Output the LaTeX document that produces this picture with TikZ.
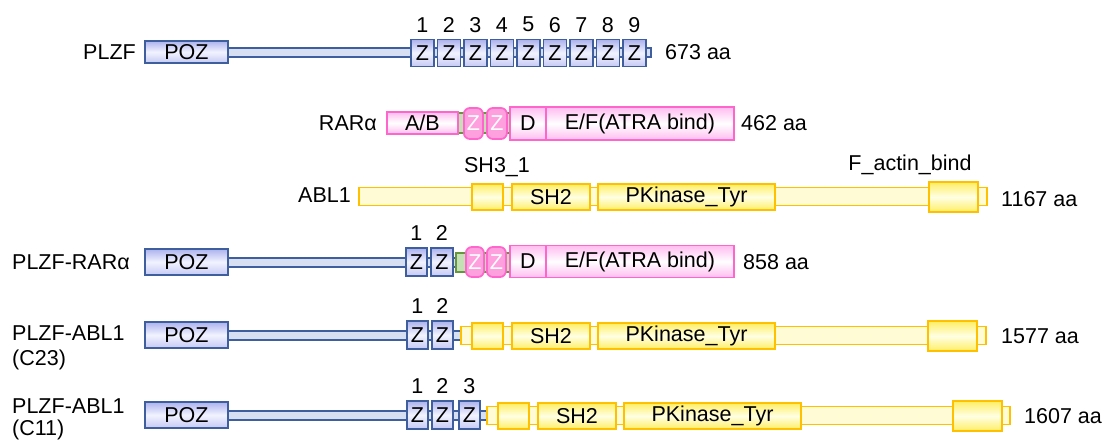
\documentclass[tikz,border=0pt]{standalone}
\usepackage{fontspec}
\setmainfont{Liberation Sans}
\usetikzlibrary{calc}
\newcommand\fz{\fontsize{21.5}{25}\selectfont}
\definecolor{bblue}{RGB}{63,94,158}
\definecolor{blueA}{RGB}{172,178,238}
\definecolor{blueB}{RGB}{242,243,255}
\definecolor{bbar}{RGB}{214,224,242}
\definecolor{pinkD}{RGB}{255,102,204}
\definecolor{pinkA}{RGB}{255,188,240}
\definecolor{pinkZ}{RGB}{255,160,222}
\definecolor{greenD}{RGB}{100,150,60}
\definecolor{greenA}{RGB}{197,224,180}
\definecolor{ylwD}{RGB}{255,192,0}
\definecolor{ylwA}{RGB}{255,238,100}
\definecolor{ylwB}{RGB}{255,255,228}
\definecolor{ylwC}{RGB}{255,251,212}
\begin{document}
\begin{tikzpicture}[x=1pt,y=-1pt,
  wd/.style={minimum width=#1pt},
  ht/.style={minimum height=#1pt},
  box/.style={line width=1.8pt, inner sep=0pt, anchor=west, font=\fz},
  bluebox/.style={box, draw=bblue, top color=blueA, bottom color=blueA!70!white, middle color=blueB},
  bluebar/.style={draw=bblue, line width=1.5pt, fill=bbar, inner sep=0pt, anchor=west, minimum height=9pt},
  pinkbox/.style={box, draw=pinkD, top color=pinkA, bottom color=pinkA, middle color=white},
  pinkz/.style={box, draw=pinkD, fill=pinkZ, rounded corners=6pt, text=white},
  greenbar/.style={draw=greenD, line width=1.5pt, fill=greenA, inner sep=0pt, anchor=west, minimum height=20pt},
  ylwbox/.style={box, line width=2pt, draw=ylwD, top color=ylwA, bottom color=ylwA, middle color=ylwB},
  ylwbar/.style={draw=ylwD, line width=1.5pt, fill=ylwC, inner sep=0pt, anchor=west, minimum height=18pt},
  lbl/.style={font=\fz, inner sep=0pt}
]
\useasboundingbox (0,0) rectangle (1107,440);

% ---------- Row 1: PLZF ----------
\node[bluebar, wd=423] (r1bar) at (227,52.5) {};
\node[bluebox, wd=83, ht=22] (r1poz) at (144,52) {POZ};
\foreach \i in {1,...,9}{
  \pgfmathsetmacro\zx{410+26.5*(\i-1)}
  \node[bluebox, wd=23, ht=27] (r1z\i) at (\zx,53) {Z};
  \node[lbl] (r1n\i) at ([yshift=14pt]r1z\i.north) {\i};
}
\node[lbl, anchor=east] (r1name) at (136,52) {PLZF};
\node[lbl, anchor=west] (r1len) at (665,52) {673 aa};

% ---------- Row 2: RARalpha ----------
\node[greenbar, wd=52] (r2grn) at (457,123) {};
\node[pinkbox, wd=71, ht=22] (r2ab) at (386,123) {A/B};
\node[pinkz, wd=19, ht=31] (r2z1) at (463,123.5) {Z};
\node[pinkz, wd=20, ht=31] (r2z2) at (486,123.5) {Z};
\node[pinkbox, wd=36, ht=33] (r2d) at (509,123.5) {D};
\node[pinkbox, wd=188, ht=33] (r2ef) at (545,123.5) {E/F(ATRA bind)};
\node[lbl, anchor=east] (r2name) at (377,123) {RARα};
\node[lbl, anchor=west] (r2len) at (741,123) {462 aa};

% ---------- Row 3: ABL1 ----------
\node[ylwbar, wd=628] (r3bar) at (358,196.5) {};
\node[ylwbox, wd=31, ht=26] (r3sh3) at (471,197) {};
\node[ylwbox, wd=78, ht=26] (r3sh2) at (511,197) {SH2};
\node[ylwbox, wd=177, ht=26] (r3pk) at (597,197) {PKinase\_Tyr};
\node[ylwbox, wd=49, ht=30] (r3fa) at (928,197) {};
\node[lbl] (r3sh3l) at (497,167) {SH3\_1};
\node[lbl] (r3fal) at (910,165) {F\_actin\_bind};
\node[lbl, anchor=east] (r3name) at (351,195) {ABL1};
\node[lbl, anchor=west] (r3len) at (1001,199) {1167 aa};

% ---------- Row 4: PLZF-RARalpha ----------
\node[bluebar, wd=229] (r4bar) at (227,262.5) {};
\node[greenbar, wd=54, ht=19] (r4grn) at (455,262.5) {};
\node[bluebox, wd=83, ht=26] (r4poz) at (144,262) {POZ};
\node[bluebox, wd=21, ht=28] (r4z1) at (405,262) {Z};
\node[bluebox, wd=22, ht=28] (r4z2) at (430,262) {Z};
\node[lbl] (r4n1) at ([yshift=14pt]r4z1.north) {1};
\node[lbl] (r4n2) at ([yshift=14pt]r4z2.north) {2};
\node[pinkz, wd=18, ht=30] (r4pz1) at (465,262) {Z};
\node[pinkz, wd=19, ht=30] (r4pz2) at (486,262) {Z};
\node[pinkbox, wd=36, ht=32] (r4d) at (509,261.5) {D};
\node[pinkbox, wd=188, ht=32] (r4ef) at (545,261.5) {E/F(ATRA bind)};
\node[lbl, anchor=west] (r4name) at (12,262) {PLZF-RARα};
\node[lbl, anchor=west] (r4len) at (743,262) {858 aa};

% ---------- Row 5: PLZF-ABL1 (C23) ----------
\node[bluebar, wd=234] (r5bar) at (227,335.5) {};
\node[ylwbar, wd=525] (r5ybar) at (460,335.5) {};
\node[bluebox, wd=83, ht=26] (r5poz) at (144,335) {POZ};
\node[bluebox, wd=21, ht=28] (r5z1) at (406,335) {Z};
\node[bluebox, wd=21, ht=28] (r5z2) at (431,335) {Z};
\node[lbl] (r5n1) at ([yshift=14pt]r5z1.north) {1};
\node[lbl] (r5n2) at ([yshift=14pt]r5z2.north) {2};
\node[ylwbox, wd=31, ht=26] (r5sh3) at (471,336) {};
\node[ylwbox, wd=78, ht=26] (r5sh2) at (511,336) {SH2};
\node[ylwbox, wd=177, ht=26] (r5pk) at (597,336) {PKinase\_Tyr};
\node[ylwbox, wd=49, ht=30] (r5fa) at (927,336) {};
\node[lbl, anchor=west] (r5name) at (12,333) {PLZF-ABL1};
\node[lbl, anchor=west] (r5sub) at (12,360) {(C23)};
\node[lbl, anchor=west] (r5len) at (1001,336) {1577 aa};

% ---------- Row 6: PLZF-ABL1 (C11) ----------
\node[bluebar, wd=260] (r6bar) at (227,415.5) {};
\node[ylwbar, wd=523] (r6ybar) at (486,415.5) {};
\node[bluebox, wd=83, ht=26] (r6poz) at (144,415) {POZ};
\node[bluebox, wd=21, ht=28] (r6z1) at (406,415) {Z};
\node[bluebox, wd=21, ht=28] (r6z2) at (431,415) {Z};
\node[bluebox, wd=21, ht=28] (r6z3) at (458,415) {Z};
\node[lbl] (r6n1) at ([yshift=14pt]r6z1.north) {1};
\node[lbl] (r6n2) at ([yshift=14pt]r6z2.north) {2};
\node[lbl] (r6n3) at ([yshift=14pt]r6z3.north) {3};
\node[ylwbox, wd=31, ht=26] (r6sh3) at (497,416) {};
\node[ylwbox, wd=78, ht=26] (r6sh2) at (537,416) {SH2};
\node[ylwbox, wd=177, ht=26] (r6pk) at (623,416) {PKinase\_Tyr};
\node[ylwbox, wd=49, ht=30] (r6fa) at (952,416) {};
\node[lbl, anchor=west] (r6name) at (12,406) {PLZF-ABL1};
\node[lbl, anchor=west] (r6sub) at (12,430) {(C11)};
\node[lbl, anchor=west] (r6len) at (1024,416) {1607 aa};
\end{tikzpicture}
\end{document}
